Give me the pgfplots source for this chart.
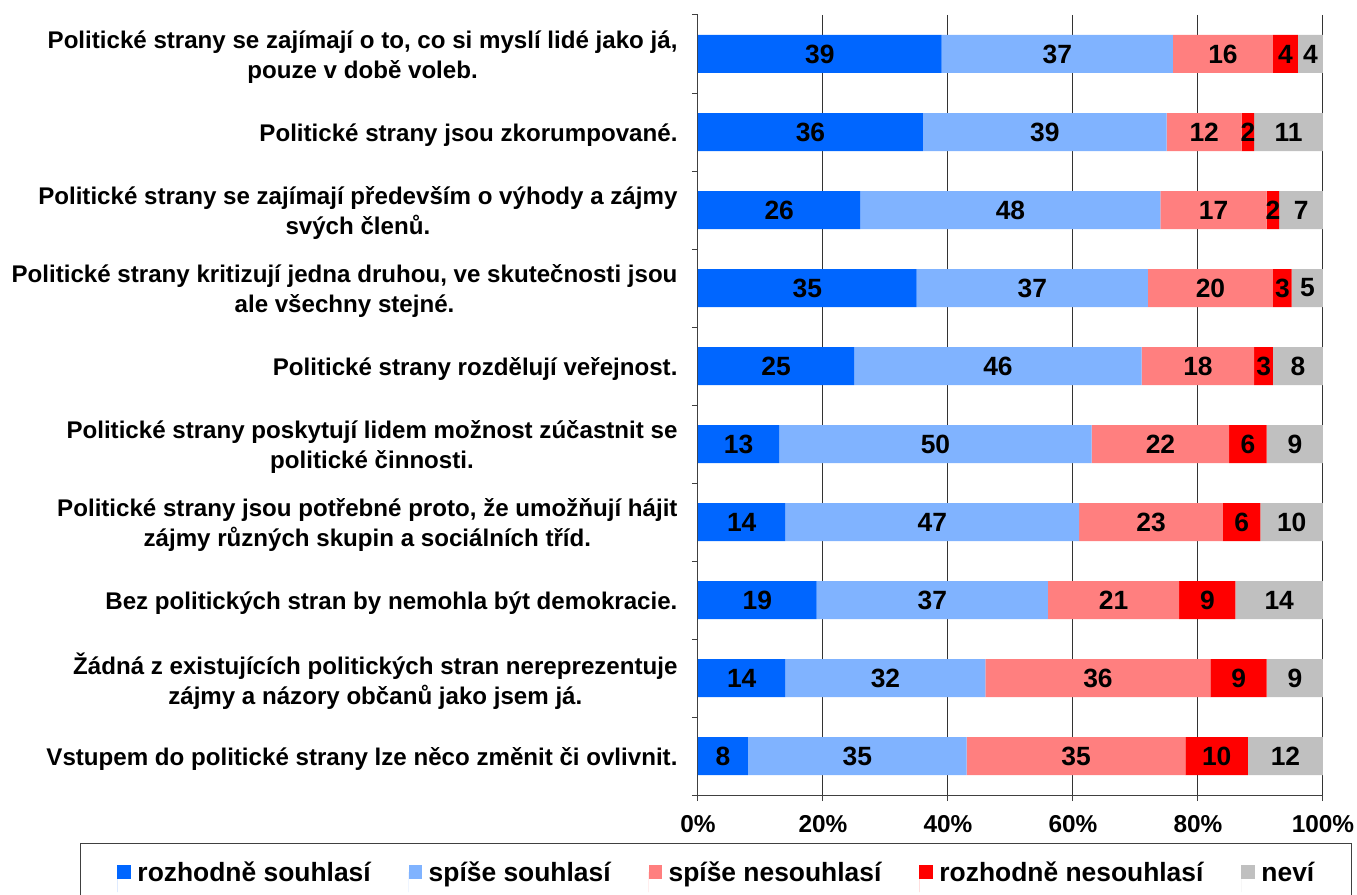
\documentclass[border=0pt]{standalone}
\usepackage{fontspec}
\setmainfont{Liberation Sans}
\usepackage{pgfplots}
\pgfplotsset{compat=1.18}
\definecolor{cA}{HTML}{0066FF}
\definecolor{cB}{HTML}{80B3FF}
\definecolor{cC}{HTML}{FF7F7F}
\definecolor{cD}{HTML}{FF0000}
\definecolor{cE}{HTML}{C0C0C0}
\begin{document}
\begin{tikzpicture}
\useasboundingbox (-698bp,-100bp) rectangle (659bp,795bp);
\begin{axis}[
  width=625bp, height=780bp, scale only axis,
  xbar stacked, bar width=38bp,
  xmin=0, xmax=100, ymin=-0.5, ymax=9.5, y dir=reverse,
  axis x line*=bottom, axis y line*=left,
  axis line style={black!75, line width=1bp},
  tick align=outside,
  major tick length=6bp, minor tick length=6bp,
  tick style={black!75, line width=1bp},
  xtick={0,20,...,100},
  xticklabels={0\%,20\%,40\%,60\%,80\%,100\%},
  xticklabel style={font=\fontsize{24.5}{24.5}\selectfont\bfseries, yshift=-11bp},
  xmajorgrids, grid style={black!80, line width=1bp},
  ytick={-0.5,0.5,...,9.5}, yticklabels={},
  extra y ticks={0,1,...,9},
  extra y tick style={major tick length=0pt, yticklabel style={align=center, font=\fontsize{24.2}{30}\selectfont\bfseries, xshift=-17bp, yshift=-3bp}},
  extra y tick labels={
    {Politické strany se zajímají o to, co si myslí lidé jako já,\\ pouze v době voleb.},
    {Politické strany jsou zkorumpované.},
    {Politické strany se zajímají především o výhody a zájmy\\ svých členů.},
    {Politické strany kritizují jedna druhou, ve skutečnosti jsou\\ ale všechny stejné.},
    {Politické strany rozdělují veřejnost.},
    {Politické strany poskytují lidem možnost zúčastnit se\\ politické činnosti.},
    {Politické strany jsou potřebné proto, že umožňují hájit\\ zájmy různých skupin a sociálních tříd.},
    {Bez politických stran by nemohla být demokracie.},
    {Žádná z existujících politických stran nereprezentuje\\ zájmy a názory občanů jako jsem já.},
    {Vstupem do politické strany lze něco změnit či ovlivnit.}},
  visualization depends on=rawx \as \rawx,
  nodes near coords={\pgfmathprintnumber[assume math mode=true,precision=0]{\rawx}},
  every node near coord/.append style={anchor=center, text=black, font=\fontsize{26.5}{26.5}\selectfont\bfseries},
  legend columns=5,
  legend cell align=left,
  legend image code/.code={\fill[#1,draw=none] (0bp,-6.7bp) rectangle (13.4bp,6.7bp); \path (0bp,-20bp) -- (0bp,0bp);},
  legend style={at={(axis description cs:-0.9888,-0.0615)}, anchor=north west,
    draw=black!75, line width=1bp, font=\fontsize{26.5}{26.5}\selectfont\bfseries,
    nodes={inner sep=0pt},
    inner xsep=37bp, inner ysep=18bp,
    /tikz/every odd column/.append style={column sep=6.6bp},
    /tikz/every even column/.append style={column sep=38bp}},
]
\addplot[fill=cA, draw=none] coordinates {(39,0) (36,1) (26,2) (35,3) (25,4) (13,5) (14,6) (19,7) (14,8) (8,9)};
\addplot[fill=cB, draw=none] coordinates {(37,0) (39,1) (48,2) (37,3) (46,4) (50,5) (47,6) (37,7) (32,8) (35,9)};
\addplot[fill=cC, draw=none] coordinates {(16,0) (12,1) (17,2) (20,3) (18,4) (22,5) (23,6) (21,7) (36,8) (35,9)};
\addplot[fill=cD, draw=none] coordinates {(4,0) (2,1) (2,2) (3,3) (3,4) (6,5) (6,6) (9,7) (9,8) (10,9)};
\addplot[fill=cE, draw=none] coordinates {(4,0) (11,1) (7,2) (5,3) (8,4) (9,5) (10,6) (14,7) (9,8) (12,9)};
\legend{rozhodně souhlasí, spíše souhlasí, spíše nesouhlasí, rozhodně nesouhlasí, neví}
\end{axis}
\end{tikzpicture}
\end{document}
